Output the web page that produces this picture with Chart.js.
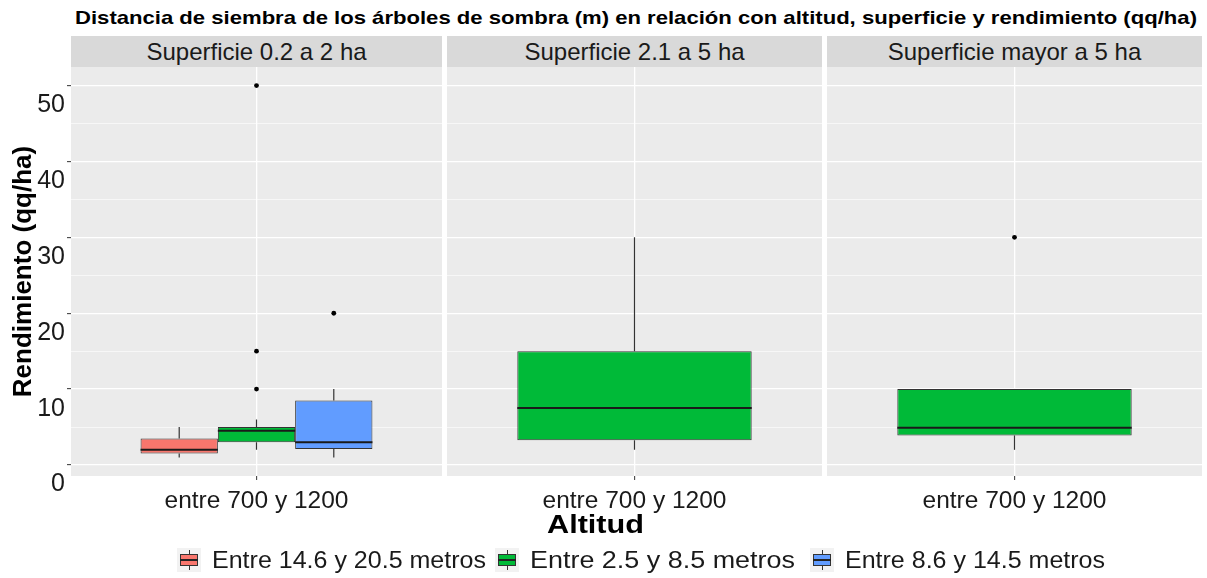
<!DOCTYPE html>
<html>
<head>
<meta charset="utf-8">
<script src="https://cdn.jsdelivr.net/npm/chart.js@4.4.1/dist/chart.umd.min.js"></script>
<style>
  html, body { margin: 0; padding: 0; background: #ffffff; }
  #wrap { position: relative; width: 1207px; height: 578px; overflow: hidden;
          font-family: "Liberation Sans", Arial, sans-serif; color: #1a1a1a; }
  .fit { position: absolute; white-space: nowrap; transform-origin: 0 50%; }
  .title { top: 7px; font-weight: bold; font-size: 18.5px; line-height: 22px; color: #000; }
  .strip { position: absolute; top: 36px; height: 31px; background: #d9d9d9; font-size: 24px;
           line-height: 31px; text-align: center; white-space: nowrap; color: #1a1a1a; }
  canvas { position: absolute; top: 0; }
  .xtitle { top: 510px; font-weight: bold; font-size: 25px; line-height: 28px; color: #000; }
  .key { position: absolute; top: 548px; width: 24px; height: 24px; background: #f2f2f2; }
  .key .wh { position: absolute; left: 11.5px; top: 2px; width: 1px; height: 20px; background: #333; }
  .key .bx { position: absolute; left: 3px; top: 6px; width: 16px; height: 10px; border: 1px solid #333; }
  .key .md { position: absolute; left: 3px; top: 11px; width: 18px; height: 2px; background: #222; }
  .ltext { top: 546px; font-size: 23px; line-height: 28px; color: #1a1a1a; }
</style>
</head>
<body>
<div id="wrap">
  <div id="title" class="fit title">Distancia de siembra de los árboles de sombra (m) en relación con altitud, superficie y rendimiento (qq/ha)</div>
  <div id="strips"></div>
  <canvas id="c0" width="442" height="578" style="left:0px"></canvas>
  <canvas id="c1" width="375" height="578" style="left:447px"></canvas>
  <canvas id="c2" width="375" height="578" style="left:827px"></canvas>
  <div id="xtitle" class="fit xtitle">Altitud</div>
  <div id="legend"></div>
</div>
<script>
// Facets, x category and fill groups
const facets = ['Superficie 0.2 a 2 ha', 'Superficie 2.1 a 5 ha', 'Superficie mayor a 5 ha'];
const altitudes = ['entre 700 y 1200'];
const groups = ['Entre 14.6 y 20.5 metros', 'Entre 2.5 y 8.5 metros', 'Entre 8.6 y 14.5 metros'];

// Five-number summaries [min, q1, median, q3, max] per facet (null = group absent)
const boxRojo  = [[1, 1.5, 2, 3.5, 5], null, null];
const boxVerde = [[2, 3, 4.5, 5, 6], [2, 3.25, 7.5, 15, 30], [2, 3.9, 4.9, 10, 10]];
const boxAzul  = [[1, 2.1, 3, 8.5, 10], null, null];

// Outlying observations per facet
const outRojo  = [[], [], []];
const outVerde = [[10, 15, 50], [], [30]];
const outAzul  = [[20], [], []];

// Y axis ticks
const yMajor = [0, 10, 20, 30, 40, 50];
const yMinor = [5, 15, 25, 35, 45];

const groupColors = ['#F8766D', '#00BA38', '#619CFF'];
const groupBoxes = [boxRojo, boxVerde, boxAzul];
const groupOutliers = [outRojo, outVerde, outAzul];

// Panel geometry (page pixels)
const panelLeft = [71, 447, 827];
const panelWidth = [371, 375, 375];
const panelTop = 67, panelBottom = 476, pageH = 578;
const fontFamily = '"Liberation Sans", Arial, sans-serif';

// Stretch a text element horizontally so it spans [left, left + width]
function fitText(el, left, width) {
  el.style.left = left + 'px';
  const w = el.getBoundingClientRect().width;
  el.style.transform = 'scaleX(' + (width / w) + ')';
}

fitText(document.getElementById('title'), 75, 1122);
fitText(document.getElementById('xtitle'), 547, 97);

// Strips
const stripHost = document.getElementById('strips');
facets.forEach((f, i) => {
  const d = document.createElement('div');
  d.className = 'strip';
  d.style.left = panelLeft[i] + 'px';
  d.style.width = panelWidth[i] + 'px';
  d.textContent = f;
  stripHost.appendChild(d);
});

// Legend
const keyLeft = [177, 495, 810];
const textSpan = [[212, 274], [530, 265], [845, 260]];
const legendHost = document.getElementById('legend');
groups.forEach((g, i) => {
  const k = document.createElement('div');
  k.className = 'key';
  k.style.left = keyLeft[i] + 'px';
  k.innerHTML = '<div class="wh"></div><div class="bx" style="background:' +
    groupColors[i] + '"></div><div class="md"></div>';
  legendHost.appendChild(k);
  const t = document.createElement('div');
  t.className = 'fit ltext';
  t.textContent = g;
  legendHost.appendChild(t);
  fitText(t, textSpan[i][0], textSpan[i][1]);
});

// Grey panel background
const panelBg = {
  id: 'panelBg',
  beforeDraw(chart) {
    const { ctx, chartArea: a } = chart;
    ctx.save();
    ctx.fillStyle = '#ebebeb';
    ctx.fillRect(a.left, a.top, a.right - a.left, a.bottom - a.top);
    ctx.restore();
  }
};

// Whiskers, medians and outliers on top of the floating-bar boxes
const boxExtras = {
  id: 'boxExtras',
  afterDatasetsDraw(chart) {
    const { ctx } = chart;
    const y = chart.scales.y;
    chart.data.datasets.forEach((ds, di) => {
      const bar = chart.getDatasetMeta(di).data[0];
      if (!bar) return;
      const [mn, q1, med, q3, mx] = ds.stats;
      const half = bar.width / 2;
      ctx.save();
      ctx.strokeStyle = '#333333';
      ctx.lineWidth = 1.2;
      ctx.beginPath();
      ctx.moveTo(bar.x, y.getPixelForValue(q3));
      ctx.lineTo(bar.x, y.getPixelForValue(mx));
      ctx.moveTo(bar.x, y.getPixelForValue(q1));
      ctx.lineTo(bar.x, y.getPixelForValue(mn));
      ctx.stroke();
      ctx.strokeStyle = '#1a1a1a';
      ctx.lineWidth = 2;
      ctx.beginPath();
      ctx.moveTo(bar.x - half, y.getPixelForValue(med));
      ctx.lineTo(bar.x + half, y.getPixelForValue(med));
      ctx.stroke();
      ctx.fillStyle = '#000000';
      ds.outliers.forEach(v => {
        ctx.beginPath();
        ctx.arc(bar.x, y.getPixelForValue(v), 2.4, 0, Math.PI * 2);
        ctx.fill();
      });
      ctx.restore();
    });
  }
};

const isMajor = v => yMajor.includes(v);

facets.forEach((f, fi) => {
  const first = fi === 0;
  const datasets = [];
  groups.forEach((g, gi) => {
    const s = groupBoxes[gi][fi];
    if (!s) return;
    datasets.push({
      label: g,
      data: [[s[1], s[3]]],
      stats: s,
      outliers: groupOutliers[gi][fi],
      backgroundColor: groupColors[gi],
      borderColor: '#333333',
      borderWidth: 1,
      borderSkipped: false,
      categoryPercentage: 0.625,
      barPercentage: 1
    });
  });

  new Chart(document.getElementById('c' + fi), {
    type: 'bar',
    data: { labels: altitudes, datasets },
    plugins: [panelBg, boxExtras],
    options: {
      responsive: false,
      animation: false,
      devicePixelRatio: 1,
      events: [],
      layout: { padding: { top: panelTop, left: 0, right: 0, bottom: 0 } },
      plugins: { legend: { display: false }, title: { display: false }, tooltip: { enabled: false } },
      scales: {
        x: {
          type: 'category',
          offset: true,
          grid: { offset: false, color: '#ffffff', lineWidth: 1.3, drawTicks: true,
                  tickLength: 4, tickColor: '#333333', tickWidth: 1 },
          border: { display: false },
          ticks: { font: { size: 24.5, family: fontFamily }, color: '#1a1a1a', padding: 7 },
          afterFit(s) { s.height = pageH - panelBottom; }
        },
        y: {
          type: 'linear',
          min: -1.45,
          max: 52.45,
          afterBuildTicks(s) {
            s.ticks = [...yMajor, ...yMinor].sort((a, b) => a - b).map(v => ({ value: v }));
          },
          grid: {
            color: '#ffffff',
            lineWidth: c => (c.tick && isMajor(c.tick.value)) ? 1.3 : 0.6,
            drawTicks: first,
            tickLength: 4,
            tickWidth: 1,
            tickColor: c => (c.tick && isMajor(c.tick.value)) ? '#333333' : 'rgba(0,0,0,0)'
          },
          border: { display: false },
          ticks: {
            display: first,
            autoSkip: false,
            callback: v => isMajor(v) ? String(v) : '',
            font: { size: 25, family: fontFamily },
            color: '#1a1a1a',
            padding: 2,
            labelOffset: 19.5
          },
          title: first ? {
            display: true, text: 'Rendimiento (qq/ha)', color: '#000000',
            font: { size: 26, weight: 'bold', family: fontFamily },
            padding: { top: 8, bottom: 0 }
          } : { display: false },
          afterFit(s) { s.width = first ? panelLeft[0] : 0; }
        }
      }
    }
  });
});
</script>
</body>
</html>
